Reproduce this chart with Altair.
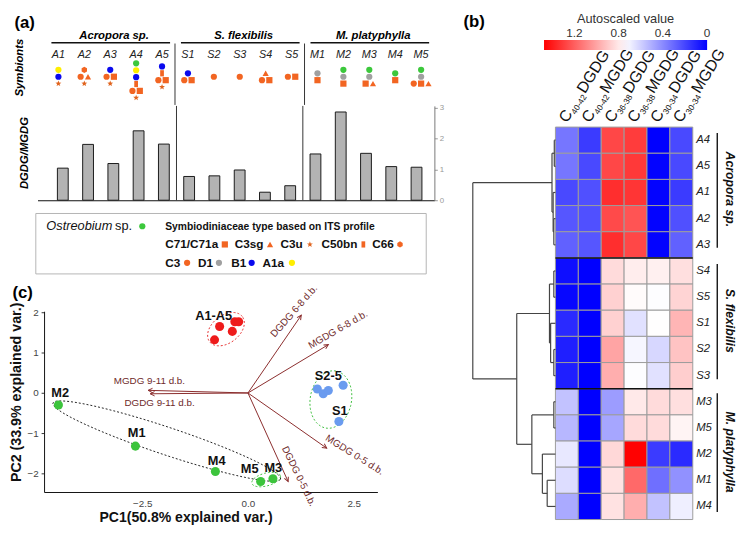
import math
import altair as alt
import pandas as pd

FONT = "Liberation Sans"

# ---------------- data ----------------
samples = ["A1", "A2", "A3", "A4", "A5", "S1", "S2", "S3", "S4", "S5",
           "M1", "M2", "M3", "M4", "M5"]
dgdg_mgdg = [1.04, 1.81, 1.19, 2.25, 1.82, 0.77, 0.79, 0.98, 0.26, 0.47,
             1.50, 2.86, 1.52, 1.09, 1.07]
groups = ["Acropora sp.", "S. flexibilis", "M. platyphylla"]
group_first = [0, 5, 10]
group_last = [4, 9, 14]

# symbiont composition per sample (stacked rows of symbols)
symbionts = [
    [["Y"], ["B"], ["R"]],
    [["H"], ["C", "T"], ["R"]],
    [["B"], ["C", "Q"], ["R"]],
    [["G"], ["Y"], ["B"], ["N"], ["C", "Q"], ["R"]],
    [["B"], ["N"], ["C", "Q"], ["R"]],
    [["B"], ["C", "Q"]],
    [["C"]],
    [["C"]],
    [["T"], ["C", "Q"]],
    [["C", "Q"]],
    [["D"], ["Q"]],
    [["G"], ["D"], ["Q"]],
    [["G"], ["D"], ["Q", "T"]],
    [["G"], ["Q"]],
    [["G"], ["D"], ["C", "Q", "T"]],
]
sym_codes = ["G", "Y", "B", "D", "C", "Q", "T", "R", "N", "H"]
sym_names = ["Ostreobium sp.", "A1a", "B1", "D1", "C3", "C71/C71a", "C3sg", "C3u", "C50bn", "C66"]
ORANGE = "#f26522"
sym_colors = ["#3cc83c", "#ffee00", "#0a0aee", "#a0a0a0", ORANGE, ORANGE, ORANGE, "#e0641e", ORANGE, ORANGE]

# heatmap
hm_cols_main = ["C", "C", "C", "C", "C", "C"]
hm_cols_sub = ["40-42", "40-42", "36-38", "36-38", "30-34", "30-34"]
hm_cols_lipid = ["DGDG", "MGDG", "DGDG", "MGDG", "DGDG", "MGDG"]
hm_rows = ["A4", "A5", "A1", "A2", "A3", "S4", "S5", "S1", "S2", "S3",
           "M3", "M5", "M2", "M1", "M4"]
hm_values = [
    [0.34, 0.17, 1.27, 1.30, 0.00, 0.21],
    [0.34, 0.21, 1.27, 1.31, 0.01, 0.21],
    [0.21, 0.23, 1.34, 1.32, 0.01, 0.17],
    [0.25, 0.23, 1.26, 1.23, 0.01, 0.23],
    [0.28, 0.25, 1.34, 1.27, 0.01, 0.28],
    [0.04, 0.00, 0.84, 0.79, 0.78, 0.83],
    [0.02, 0.00, 0.87, 0.75, 0.73, 0.86],
    [0.12, 0.00, 0.87, 0.65, 0.74, 0.95],
    [0.09, 0.00, 1.00, 0.71, 0.62, 0.91],
    [0.09, 0.00, 0.97, 0.73, 0.65, 0.88],
    [0.56, 0.00, 0.45, 0.80, 0.84, 0.83],
    [0.53, 0.00, 0.48, 0.84, 0.84, 0.77],
    [0.67, 0.00, 0.85, 1.47, 0.17, 0.12],
    [0.64, 0.00, 0.82, 1.17, 0.32, 0.42],
    [0.49, 0.00, 0.82, 0.97, 0.56, 0.69],
]
hm_groups = ["Acropora sp.", "S. flexibilis", "M. platyphylla"]
cbar_max = 1.474
cbar_ticks = [1.2, 0.8, 0.4, 0]
cbar_tick_labels = ["1.2", "0.8", "0.4", "0"]
# dendrogram merges (left node, right node, height); leaves 0..14 in row order
merges = [(0, 1, 0.05), (3, 4, 0.07), (2, 16, 0.10), (15, 17, 0.15),
          (5, 6, 0.07), (8, 9, 0.07), (7, 20, 0.21), (19, 21, 0.26),
          (10, 11, 0.07), (13, 14, 0.36), (12, 24, 0.57), (23, 25, 1.03),
          (22, 26, 1.69), (18, 27, 3.61)]

# PCA scores
pc_A_x = [-0.79, -0.67, -0.37, -0.31, -0.22]
pc_A_y = [1.32, 1.65, 1.53, 1.77, 1.77]
pc_S_x = [2.15, 1.64, 1.78, 1.90, 2.25]
pc_S_y = [-0.71, 0.10, -0.02, 0.06, 0.19]
pc_M_x = [-2.66, -4.48, 0.59, -0.77, 0.30]
pc_M_y = [-1.32, -0.30, -2.13, -1.95, -2.20]
pc_group_colors = ["#ee1b1b", "#6a9bef", "#3cc43c"]
pc_labels = ["A1-A5", "S2-5", "S1", "M2", "M1", "M4", "M5", "M3"]
pc_label_x = [-0.81, 1.90, 2.17, -4.44, -2.63, -0.74, 0.04, 0.60]
pc_label_y = [1.91, 0.41, -0.46, 0.00, -1.00, -1.68, -1.90, -1.87]
# loadings
load_names = ["DGDG 6-8 d.b.", "MGDG 6-8 d.b.", "MGDG 9-11 d.b.", "DGDG 9-11 d.b.",
              "MGDG 0-5 d.b.", "DGDG 0-5 d.b."]
load_x = [1.26, 1.90, -2.36, -2.31, 1.86, 0.95]
load_y = [1.93, 1.20, 0.065, -0.02, -1.37, -2.20]
load_lab_x = [1.09, 2.13, -2.33, -2.09, 2.52, 1.20]
load_lab_y = [2.03, 1.57, 0.30, -0.24, -1.54, -2.07]
load_lab_ang = [311, 330, 0, 0, 32, 64]
# confidence ellipses: centre (data), semi axes (px), angle (deg)
ell_cx = [-0.52, 1.96, -1.92, 0.43]
ell_cy = [1.585, -0.163, -1.195, -2.15]
ell_a = [21, 29.5, 122, 15]
ell_b = [14, 21, 14, 6.5]
ell_phi = [38, 80, -18.5, 15]
ell_col = ["#e53030", "#3fbf3f", "#222222", "#3fbf3f"]

# ---------------- shapes ----------------
def path(pts):
    return "M" + "L".join(f"{x:.3f},{y:.3f}" for x, y in pts) + "Z"

STAR = path([(r * math.cos(math.radians(-90 + 36 * k)), r * math.sin(math.radians(-90 + 36 * k)))
             for k, r in zip(range(10), [1, 0.42] * 5)])
HEX = path([(math.cos(math.radians(30 + 60 * k)), math.sin(math.radians(30 + 60 * k))) for k in range(6)])
PILL = "M-0.6,-1L0.6,-1L0.6,1L-0.6,1Z"
sym_shapes = ["circle", "circle", "circle", "circle", "circle", "square", "triangle-up", STAR, PILL, HEX]
sym_sizes = [40, 40, 40, 40, 40, 36, 38, 70, 50, 42]
SHAPE = alt.Scale(domain=sym_codes, range=sym_shapes)
COLOR = alt.Scale(domain=sym_codes, range=sym_colors)
SIZE = alt.Scale(domain=sym_codes, range=sym_sizes)

# ================= panel (a) =================
WA = 404
XA = alt.Scale(domain=[-0.808, -0.808 + WA / 26.37], nice=False, zero=False)
YS = alt.Scale(domain=[0, 78], reverse=True, nice=False, zero=False)


def xa(f):
    return alt.X(f, type="quantitative", scale=XA, axis=None)


def ys(f):
    return alt.Y(f, type="quantitative", scale=YS, axis=None)


gdf = pd.DataFrame({"g": groups,
                    "xc": [(a + b) / 2 + 0.15 for a, b in zip(group_first, group_last)],
                    "x0": [a - 0.27 for a in group_first],
                    "x1": [b + 0.31 for b in group_last],
                    "y": [8] * 3, "yl": [14.7] * 3})
sep_x = [(group_last[0] + group_first[1]) / 2, (group_last[1] + group_first[2]) / 2]
sdf = pd.DataFrame({"x": sep_x, "y0": [15.5, 15.5], "y1": [78, 78]})
ldf = pd.DataFrame({"s": samples, "x": list(range(15)), "y": [27.2] * 15})

sym_rows = []
for i, stack in enumerate(symbionts):
    n = len(stack)
    top = max(49.3 - (n - 1) / 2 * 7.0, 35.7)
    for r, row in enumerate(stack):
        k = len(row)
        for j, code in enumerate(row):
            sym_rows.append({"x": i + (j - (k - 1) / 2) * 0.284, "y": top + r * 7.0, "code": code})
symdf = pd.DataFrame(sym_rows)

a_title = pd.DataFrame({"t": ["(a)"], "x": [-1.30], "y": [-5]})
a_ylab = pd.DataFrame({"t": ["Symbionts"], "x": [-1.49], "y": [40]})

a_sym = alt.layer(
    alt.Chart(gdf).mark_text(fontWeight="bold", fontStyle="italic", fontSize=11.5, baseline="middle")
    .encode(x=xa("xc"), y=ys("y"), text="g:N"),
    alt.Chart(gdf).mark_rule(color="#111", strokeWidth=1.6).encode(x=xa("x0"), x2="x1:Q", y=ys("yl")),
    alt.Chart(sdf).mark_rule(color="#333", strokeWidth=1).encode(x=xa("x"), y=ys("y0"), y2="y1:Q"),
    alt.Chart(ldf).mark_text(fontStyle="italic", fontSize=11, color="#222").encode(x=xa("x"), y=ys("y"), text="s:N"),
    alt.Chart(symdf).mark_point(filled=True, opacity=1).encode(
        x=xa("x"), y=ys("y"),
        shape=alt.Shape("code:N", scale=SHAPE, legend=None),
        color=alt.Color("code:N", scale=COLOR, legend=None),
        size=alt.Size("code:N", scale=SIZE, legend=None)),
    alt.Chart(a_title).mark_text(fontWeight="bold", fontSize=17).encode(x=xa("x"), y=ys("y"), text="t:N"),
    alt.Chart(a_ylab).mark_text(fontWeight="bold", fontStyle="italic", fontSize=11.5, angle=270)
    .encode(x=xa("x"), y=ys("y"), text="t:N"),
).properties(width=WA, height=78)

HB = 96
YB = alt.Scale(domain=[0, HB / 31.4], nice=False, zero=True)
AXY = alt.Axis(orient="right", values=[0, 1, 2, 3], title=None, grid=False, labelFontSize=8,
               labelColor="#999", tickColor="#999", tickSize=3, domainColor="#777", labelPadding=2)
AXX = alt.Axis(labels=False, ticks=False, title=None, grid=False, domainColor="#111", domainWidth=1.2)
bdf = pd.DataFrame({"x": list(range(15)), "v": dgdg_mgdg})
sbdf = pd.DataFrame({"x": sep_x, "y0": [0, 0], "y1": [HB / 31.4] * 2})
b_ylab = pd.DataFrame({"t": ["DGDG/MGDG"], "x": [-1.49], "y": [1.53]})


def xb(f):
    return alt.X(f, type="quantitative", scale=XA, axis=AXX)


def yb(f):
    return alt.Y(f, type="quantitative", scale=YB, axis=AXY)


a_bar = alt.layer(
    alt.Chart(bdf).mark_bar(size=11, color="#b3b3b3", stroke="#1a1a1a", strokeWidth=1)
    .encode(x=xb("x"), y=yb("v")),
    alt.Chart(sbdf).mark_rule(color="#333", strokeWidth=1).encode(x=xb("x"), y=yb("y0"), y2="y1:Q"),
    alt.Chart(b_ylab).mark_text(fontWeight="bold", fontStyle="italic", fontSize=11.5, angle=270)
    .encode(x=xb("x"), y=yb("y"), text="t:N"),
).properties(width=WA, height=HB)

# ================= legend box =================
WL, HL = 400, 83
XL = alt.Scale(domain=[0, WL], nice=False, zero=False)
YL = alt.Scale(domain=[0, HL], reverse=True, nice=False, zero=False)


def xl(f):
    return alt.X(f, type="quantitative", scale=XL, axis=None)


def yl(f):
    return alt.Y(f, type="quantitative", scale=YL, axis=None)


box = pd.DataFrame({"x0": [-1.7], "x1": [395.7], "y0": [9.5], "y1": [71]})
# legend layout: label, symbol code, text left, symbol x, row
leg_text = ["C71/C71a", "C3sg", "C3u", "C50bn", "C66", "C3", "D1", "B1", "A1a"]
leg_code = ["Q", "T", "R", "N", "H", "C", "D", "B", "Y"]
leg_tx = [130, 200.7, 247.3, 289, 340.7, 130, 163.3, 197.3, 229]
leg_sx = [190.7, 236.7, 277.3, 331.7, 369, 152.3, 184.7, 218, 259]
leg_row_y = [41, 41, 41, 41, 41, 59.7, 59.7, 59.7, 59.7]
legdf = pd.DataFrame({"t": leg_text, "code": leg_code, "tx": leg_tx, "sx": leg_sx, "y": leg_row_y})
ostdf = pd.DataFrame({"t": ["Ostreobium"], "x": [9], "y": [22.5]})
spdf = pd.DataFrame({"t": ["sp."], "x": [79], "y": [22.5]})
ostsym = pd.DataFrame({"code": ["G"], "x": [106.7], "y": [22.5]})
headdf = pd.DataFrame({"t": ["Symbiodiniaceae type based on ITS profile"], "x": [130], "y": [23]})

legend_chart = alt.layer(
    alt.Chart(box).mark_rect(fill="white", stroke="#b5b5b5", strokeWidth=1)
    .encode(x=xl("x0"), x2="x1:Q", y=yl("y0"), y2="y1:Q"),
    alt.Chart(ostdf).mark_text(fontStyle="italic", fontSize=13, align="left", color="#111")
    .encode(x=xl("x"), y=yl("y"), text="t:N"),
    alt.Chart(spdf).mark_text(fontSize=13, align="left", color="#111").encode(x=xl("x"), y=yl("y"), text="t:N"),
    alt.Chart(headdf).mark_text(fontSize=10.5, fontWeight="bold", align="left", color="#111")
    .encode(x=xl("x"), y=yl("y"), text="t:N"),
    alt.Chart(legdf).mark_text(fontSize=12, fontWeight="bold", align="left", color="#111")
    .encode(x=xl("tx"), y=yl("y"), text="t:N"),
    alt.Chart(pd.concat([ostsym, legdf.rename(columns={"sx": "x"})[["code", "x", "y"]]]))
    .mark_point(filled=True, opacity=1).encode(
        x=xl("x"), y=yl("y"),
        shape=alt.Shape("code:N", scale=SHAPE, legend=None),
        color=alt.Color("code:N", scale=COLOR, legend=None),
        size=alt.Size("code:N", scale=SIZE, legend=None)),
).properties(width=WL, height=HL)

# ================= panel (c) PCA =================
WP, HP = 346, 184
XP = alt.Scale(domain=[-4.82, 3.06], range=[6.7, WP], nice=False, zero=False)
YP = alt.Scale(domain=[-2.46, 2.03], nice=False, zero=False)
AXPX = alt.Axis(values=[-2.5, 0, 2.5], format=".1f", grid=False, ticks=False, labelPadding=7,
                labelFontSize=10, labelColor="#444", domainColor="#111",
                title="PC1(50.8% explained var.)", titleFontSize=14.3, titleFontWeight="bold",
                titleX=150.7, titleY=26, titleBaseline="middle", titleAlign="center", titleColor="#111")
AXPY = alt.Axis(values=[-2, -1, 0, 1, 2], format="d", grid=False, ticks=True, tickSize=3, tickColor="#333",
                labelPadding=3, labelFontSize=10, labelColor="#444", domainColor="#111", offset=-6.7,
                title="PC2 (33.9% explained var.)", titleFontSize=14.5, titleFontWeight="bold",
                titleX=-27.7, titleY=82, titleBaseline="middle", titleAlign="center", titleColor="#111")


def xp(f):
    return alt.X(f, type="quantitative", scale=XP, axis=AXPX)


def yp(f):
    return alt.Y(f, type="quantitative", scale=YP, axis=AXPY)


ell_layers = []
for e in range(len(ell_cx)):
    phi = math.radians(ell_phi[e])
    pts = []
    for k in range(0, 73):
        t = math.radians(k * 5)
        dx = ell_a[e] * math.cos(t) * math.cos(phi) - ell_b[e] * math.sin(t) * math.sin(phi)
        dy = ell_a[e] * math.cos(t) * math.sin(phi) + ell_b[e] * math.sin(t) * math.cos(phi)
        pts.append({"k": k, "x": ell_cx[e] + dx / 43.0, "y": ell_cy[e] + dy / 41.0})
    ell_layers.append(alt.Chart(pd.DataFrame(pts)).mark_line(strokeDash=[2, 2], strokeWidth=1, color=ell_col[e])
                      .encode(x=xp("x"), y=yp("y"), order="k:Q"))

pt_layers = []
for gx, gy, gc in zip([pc_A_x, pc_S_x, pc_M_x], [pc_A_y, pc_S_y, pc_M_y], pc_group_colors):
    pt_layers.append(alt.Chart(pd.DataFrame({"x": gx, "y": gy})).mark_circle(size=85, opacity=1, color=gc)
                     .encode(x=xp("x"), y=yp("y")))

lbl = pd.DataFrame({"t": pc_labels, "x": pc_label_x, "y": pc_label_y})
ARROW = "#8a2b2b"
loaddf = pd.DataFrame({"n": load_names, "x0": [0.0] * 6, "y0": [0.0] * 6, "x": load_x, "y": load_y,
                       "ang": [(math.degrees(math.atan2(a * 43, b * 41)) + 360) % 360 for a, b in zip(load_x, load_y)],
                       "lx": load_lab_x, "ly": load_lab_y, "la": load_lab_ang})
ANG = alt.Scale(domain=[0, 360], range=[0, 360])
c_title = pd.DataFrame({"t": ["(c)"], "x": [-5.325], "y": [2.486]})

pca = alt.layer(
    *ell_layers,
    alt.Chart(loaddf).mark_rule(color=ARROW, strokeWidth=1).encode(x=xp("x0"), y=yp("y0"), x2="x:Q", y2="y:Q"),
    alt.Chart(loaddf).mark_point(shape="M-0.7,1.4L0,0L0.7,1.4", filled=False, color=ARROW, strokeWidth=1,
                                 size=40, opacity=1)
    .encode(x=xp("x"), y=yp("y"), angle=alt.Angle("ang:Q", scale=ANG)),
    alt.Chart(loaddf).mark_text(color="#6e2a2a", fontSize=10)
    .encode(x=xp("lx"), y=yp("ly"), text="n:N", angle=alt.Angle("la:Q", scale=ANG)),
    *pt_layers,
    alt.Chart(lbl).mark_text(fontWeight="bold", fontSize=13, color="#111").encode(x=xp("x"), y=yp("y"), text="t:N"),
    alt.Chart(c_title).mark_text(fontWeight="bold", fontSize=17).encode(x=xp("x"), y=yp("y"), text="t:N"),
).properties(width=WP, height=HP)

left = alt.vconcat(a_sym, a_bar, legend_chart, pca, spacing=-3)

# ================= panel (b) heatmap =================
WH, HH = 226, 500
XH = alt.Scale(domain=[-3.7, 6.0], nice=False, zero=False)
YH = alt.Scale(domain=[-3.776, 15], reverse=True, nice=False, zero=False)


def xh(f):
    return alt.X(f, type="quantitative", scale=XH, axis=None)


def yh(f):
    return alt.Y(f, type="quantitative", scale=YH, axis=None)


cells = []
for r, rv in enumerate(hm_values):
    for c, v in enumerate(rv):
        cells.append({"c": c, "c1": c + 1, "r": r, "r1": r + 1, "v": v, "neg": -v})
celldf = pd.DataFrame(cells)

segs = []
node_y = [r + 0.5 for r in range(15)]
node_h = [0.0] * 15
for a, b, h in merges:
    ya, yb_ = node_y[a], node_y[b]
    segs.append({"x": -h, "x2": -h, "y": ya, "y2": yb_})
    segs.append({"x": -node_h[a], "x2": -h, "y": ya, "y2": ya})
    segs.append({"x": -node_h[b], "x2": -h, "y": yb_, "y2": yb_})
    node_y.append((ya + yb_) / 2)
    node_h.append(h)
segdf = pd.DataFrame(segs)

coldf = pd.DataFrame({"m": hm_cols_main, "s": hm_cols_sub, "l": hm_cols_lipid,
                      "x": [c + 0.5 for c in range(6)], "y": [-0.14] * 6})
rowdf = pd.DataFrame({"t": hm_rows, "x": [6.15] * 15, "y": [r + 0.5 for r in range(15)]})
hsep = pd.DataFrame({"x0": [0, 0], "x1": [6, 6], "y": [5, 10]})
grl = pd.DataFrame({"g": hm_groups, "x": [7.07] * 3, "y0": [0.23, 5.23, 10.17], "y1": [4.61, 9.64, 14.71],
                    "tx": [7.62] * 3, "ty": [2.38, 7.4, 12.42]})
b_title = pd.DataFrame({"t": ["(b)"], "x": [-3.55], "y": [-4.01]})
# colour-bar tick labels: positioned along the 166 px gradient that starts at x=-0.498 (column units)
cb_lab = pd.DataFrame({"t": cbar_tick_labels,
                       "x": [-0.498 + (cbar_max - v) / cbar_max * 166 / 23.3 for v in cbar_ticks],
                       "y": [-3.577] * 4})

heat = alt.layer(
    alt.Chart(celldf).mark_rect(stroke="#9c9c9c", strokeWidth=1).encode(
        x=xh("c"), x2="c1:Q", y=yh("r"), y2="r1:Q",
        color=alt.Color("neg:Q",
                        scale=alt.Scale(domain=[-cbar_max, -cbar_max / 2, 0], range=["#ff0000", "#ffffff", "#0000ff"],
                                        interpolate="rgb"),
                        legend=alt.Legend(orient="none", legendX=74.6, legendY=-15, direction="horizontal",
                                          padding=0, offset=0,
                                          title="Autoscaled value", titleFontSize=13, titleFontWeight="normal",
                                          titleColor="#333", titlePadding=14, titleAnchor="middle",
                                          gradientLength=166, gradientThickness=10, gradientStrokeWidth=0,
                                          labelExpr="''", labelOpacity=0, labelFontSize=1))),
    alt.Chart(cb_lab).mark_text(fontSize=12, color="#333").encode(x=xh("x"), y=yh("y"), text="t:N"),
    alt.Chart(hsep).mark_rule(color="#111", strokeWidth=1.5).encode(x=xh("x0"), x2="x1:Q", y=yh("y")),
    alt.Chart(segdf).mark_rule(color="#444", strokeWidth=1.2).encode(x=xh("x"), x2="x2:Q", y=yh("y"), y2="y2:Q"),
    alt.Chart(coldf).mark_text(angle=302, align="left", baseline="alphabetic", fontSize=16, color="#111")
    .encode(x=xh("x"), y=yh("y"), text="m:N"),
    alt.Chart(coldf).mark_text(angle=302, align="left", baseline="alphabetic", fontSize=8.5, color="#111",
                               dx=12, dy=3).encode(x=xh("x"), y=yh("y"), text="s:N"),
    alt.Chart(coldf).mark_text(angle=302, align="left", baseline="alphabetic", fontSize=16, color="#111",
                               dx=35).encode(x=xh("x"), y=yh("y"), text="l:N"),
    alt.Chart(rowdf).mark_text(fontStyle="italic", fontSize=11.5, align="left", color="#222")
    .encode(x=xh("x"), y=yh("y"), text="t:N"),
    alt.Chart(grl).mark_rule(color="#111", strokeWidth=1.4).encode(x=xh("x"), y=yh("y0"), y2="y1:Q"),
    alt.Chart(grl).mark_text(fontStyle="italic", fontWeight="bold", fontSize=12.5, angle=90, color="#111")
    .encode(x=xh("tx"), y=yh("ty"), text="g:N"),
    alt.Chart(b_title).mark_text(fontWeight="bold", fontSize=17).encode(x=xh("x"), y=yh("y"), text="t:N"),
).properties(width=WH, height=HH)

chart = (alt.hconcat(left, heat, spacing=19)
         .resolve_scale(color="independent")
         .configure(font=FONT).configure_view(stroke=None).properties(padding=0))

chart.save("out.html", embed_options={"renderer": "svg", "actions": False})
